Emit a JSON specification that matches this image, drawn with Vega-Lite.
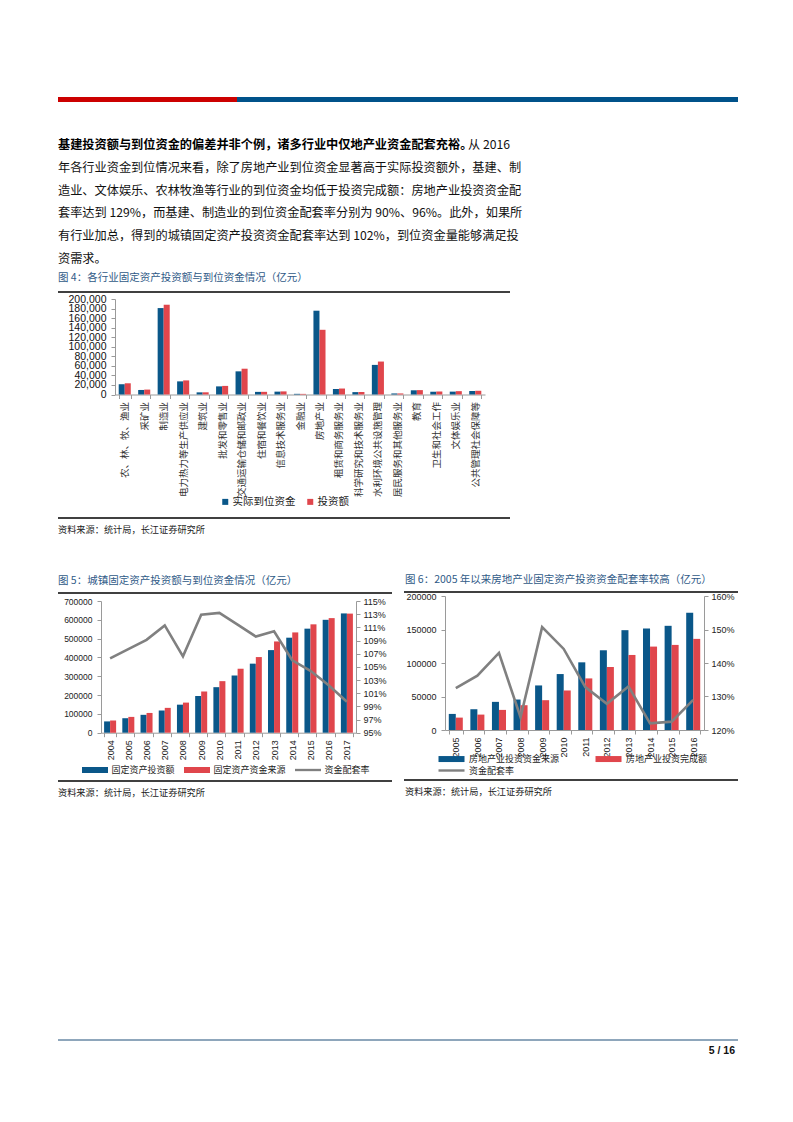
{
"$schema": "https://vega.github.io/schema/vega-lite/v6.json",
"padding": 0,
"background": "white",
"bounds": "flush",
"spacing": 0,
"resolve": {"scale": {"color": "independent", "xOffset": "independent"}, "legend": {"color": "independent"}},
"config": {
 "view": {"stroke": null},
 "concat": {"spacing": 0},
 "axis": {"grid": false, "labelFont": "Liberation Sans", "labelColor": "#222222", "domainColor": "#9a9a9a", "tickColor": "#9a9a9a", "tickSize": 4, "labelOverlap": false},
 "legend": {"labelFont": "Noto Sans CJK SC", "labelColor": "#222222"},
 "text": {"font": "Noto Sans CJK SC"}
},
"datasets": {
 "c4": [
  {"industry":"农、林、牧、渔业","series":"实际到位资金","value":21500},{"industry":"农、林、牧、渔业","series":"投资额","value":23500},
  {"industry":"采矿业","series":"实际到位资金","value":9500},{"industry":"采矿业","series":"投资额","value":10300},
  {"industry":"制造业","series":"实际到位资金","value":181000},{"industry":"制造业","series":"投资额","value":188000},
  {"industry":"电力热力等生产供应业","series":"实际到位资金","value":27500},{"industry":"电力热力等生产供应业","series":"投资额","value":29500},
  {"industry":"建筑业","series":"实际到位资金","value":4500},{"industry":"建筑业","series":"投资额","value":4600},
  {"industry":"批发和零售业","series":"实际到位资金","value":17000},{"industry":"批发和零售业","series":"投资额","value":18000},
  {"industry":"交通运输仓储和邮政业","series":"实际到位资金","value":48500},{"industry":"交通运输仓储和邮政业","series":"投资额","value":54000},
  {"industry":"住宿和餐饮业","series":"实际到位资金","value":5500},{"industry":"住宿和餐饮业","series":"投资额","value":5600},
  {"industry":"信息技术服务业","series":"实际到位资金","value":6000},{"industry":"信息技术服务业","series":"投资额","value":6500},
  {"industry":"金融业","series":"实际到位资金","value":1400},{"industry":"金融业","series":"投资额","value":1300},
  {"industry":"房地产业","series":"实际到位资金","value":175500},{"industry":"房地产业","series":"投资额","value":135500},
  {"industry":"租赁和商务服务业","series":"实际到位资金","value":11500},{"industry":"租赁和商务服务业","series":"投资额","value":12500},
  {"industry":"科学研究和技术服务业","series":"实际到位资金","value":5000},{"industry":"科学研究和技术服务业","series":"投资额","value":5200},
  {"industry":"水利环境公共设施管理","series":"实际到位资金","value":62000},{"industry":"水利环境公共设施管理","series":"投资额","value":69000},
  {"industry":"居民服务和其他服务业","series":"实际到位资金","value":2200},{"industry":"居民服务和其他服务业","series":"投资额","value":2200},
  {"industry":"教育","series":"实际到位资金","value":8800},{"industry":"教育","series":"投资额","value":9200},
  {"industry":"卫生和社会工作","series":"实际到位资金","value":5800},{"industry":"卫生和社会工作","series":"投资额","value":6300},
  {"industry":"文体娱乐业","series":"实际到位资金","value":6000},{"industry":"文体娱乐业","series":"投资额","value":7000},
  {"industry":"公共管理社会保障等","series":"实际到位资金","value":7300},{"industry":"公共管理社会保障等","series":"投资额","value":7800}
 ],
 "c5bars": [
  {"year":"2004","series":"固定资产投资额","value":60000},{"year":"2004","series":"固定资产资金来源","value":65000},
  {"year":"2005","series":"固定资产投资额","value":77000},{"year":"2005","series":"固定资产资金来源","value":84000},
  {"year":"2006","series":"固定资产投资额","value":95000},{"year":"2006","series":"固定资产资金来源","value":105000},
  {"year":"2007","series":"固定资产投资额","value":118000},{"year":"2007","series":"固定资产资金来源","value":132000},
  {"year":"2008","series":"固定资产投资额","value":149000},{"year":"2008","series":"固定资产资金来源","value":160000},
  {"year":"2009","series":"固定资产投资额","value":195000},{"year":"2009","series":"固定资产资金来源","value":219000},
  {"year":"2010","series":"固定资产投资额","value":242000},{"year":"2010","series":"固定资产资金来源","value":274000},
  {"year":"2011","series":"固定资产投资额","value":304000},{"year":"2011","series":"固定资产资金来源","value":340000},
  {"year":"2012","series":"固定资产投资额","value":367000},{"year":"2012","series":"固定资产资金来源","value":402000},
  {"year":"2013","series":"固定资产投资额","value":439000},{"year":"2013","series":"固定资产资金来源","value":485000},
  {"year":"2014","series":"固定资产投资额","value":505000},{"year":"2014","series":"固定资产资金来源","value":533000},
  {"year":"2015","series":"固定资产投资额","value":553000},{"year":"2015","series":"固定资产资金来源","value":576000},
  {"year":"2016","series":"固定资产投资额","value":600000},{"year":"2016","series":"固定资产资金来源","value":609000},
  {"year":"2017","series":"固定资产投资额","value":634000},{"year":"2017","series":"固定资产资金来源","value":633000}
 ],
 "c5rate": [
  {"year":"2004","rate":1.063},{"year":"2005","rate":1.077},{"year":"2006","rate":1.091},{"year":"2007","rate":1.113},
  {"year":"2008","rate":1.066},{"year":"2009","rate":1.129},{"year":"2010","rate":1.132},{"year":"2011","rate":1.114},
  {"year":"2012","rate":1.096},{"year":"2013","rate":1.104},{"year":"2014","rate":1.060},{"year":"2015","rate":1.044},
  {"year":"2016","rate":1.022},{"year":"2017","rate":0.997}
 ],
 "c6bars": [
  {"year":"2005","series":"房地产业投资资金来源","value":24000},{"year":"2005","series":"房地产业投资完成额","value":18500},
  {"year":"2006","series":"房地产业投资资金来源","value":31000},{"year":"2006","series":"房地产业投资完成额","value":23000},
  {"year":"2007","series":"房地产业投资资金来源","value":42000},{"year":"2007","series":"房地产业投资完成额","value":30000},
  {"year":"2008","series":"房地产业投资资金来源","value":45500},{"year":"2008","series":"房地产业投资完成额","value":37000},
  {"year":"2009","series":"房地产业投资资金来源","value":66500},{"year":"2009","series":"房地产业投资完成额","value":44500},
  {"year":"2010","series":"房地产业投资资金来源","value":83500},{"year":"2010","series":"房地产业投资完成额","value":59000},
  {"year":"2011","series":"房地产业投资资金来源","value":101000},{"year":"2011","series":"房地产业投资完成额","value":77000},
  {"year":"2012","series":"房地产业投资资金来源","value":119000},{"year":"2012","series":"房地产业投资完成额","value":94000},
  {"year":"2013","series":"房地产业投资资金来源","value":149000},{"year":"2013","series":"房地产业投资完成额","value":112000},
  {"year":"2014","series":"房地产业投资资金来源","value":151500},{"year":"2014","series":"房地产业投资完成额","value":124500},
  {"year":"2015","series":"房地产业投资资金来源","value":155500},{"year":"2015","series":"房地产业投资完成额","value":127000},
  {"year":"2016","series":"房地产业投资资金来源","value":175000},{"year":"2016","series":"房地产业投资完成额","value":136000}
 ],
 "c6rate": [
  {"year":"2005","rate":1.325},{"year":"2006","rate":1.362},{"year":"2007","rate":1.43},{"year":"2008","rate":1.238},
  {"year":"2009","rate":1.507},{"year":"2010","rate":1.442},{"year":"2011","rate":1.328},{"year":"2012","rate":1.278},
  {"year":"2013","rate":1.33},{"year":"2014","rate":1.22},{"year":"2015","rate":1.225},{"year":"2016","rate":1.29}
 ]
},
"vconcat": [
 {"hconcat": [
   {"width": 58, "height": 1, "data": {"values": [{}]}, "mark": {"type": "point", "opacity": 0}},
   {"vconcat": [
     {"width": 1, "height": 94, "data": {"values": [{}]}, "mark": {"type": "point", "opacity": 0}},
     {"width": 680, "height": 5,
      "data": {"values": [{"seg": "left", "v": 179}, {"seg": "right", "v": 501}]},
      "mark": {"type": "bar", "size": 5},
      "encoding": {
        "x": {"field": "v", "type": "quantitative", "stack": "zero", "scale": {"domain": [0, 680], "nice": false}, "axis": null},
        "color": {"field": "seg", "type": "nominal", "scale": {"domain": ["left", "right"], "range": ["#CC0000", "#00528A"]}, "legend": null}
      }},
     {"width": 1, "height": 32, "data": {"values": [{}]}, "mark": {"type": "point", "opacity": 0}},
     {"width": 452, "height": 136,
      "encoding": {"y": {"field": "line", "type": "ordinal", "scale": {"type": "band", "domain": [1, 2, 3, 4, 5, 6], "paddingInner": 0, "paddingOuter": 0}, "axis": null}},
      "layer": [
       {"data": {"values": [{"line": 1, "text": "基建投资额与到位资金的偏差并非个例，诸多行业中仅地产业资金配套充裕。"}]},
        "mark": {"type": "text", "align": "left", "baseline": "middle", "fontSize": 12.2, "fontWeight": "bold", "color": "#000000"},
        "encoding": {"text": {"field": "text"}, "x": {"value": 0}}},
       {"data": {"values": [{"line": 1, "text": "从 2016"}]},
        "mark": {"type": "text", "align": "right", "baseline": "middle", "fontSize": 12.2, "color": "#111111"},
        "encoding": {"text": {"field": "text"}, "x": {"value": "width"}}},
       {"data": {"values": [
          {"line": 2, "text": "年各行业资金到位情况来看，除了房地产业到位资金显著高于实际投资额外，基建、制"},
          {"line": 3, "text": "造业、文体娱乐、农林牧渔等行业的到位资金均低于投资完成额：房地产业投资资金配"},
          {"line": 4, "text": "套率达到 129%，而基建、制造业的到位资金配套率分别为 90%、96%。此外，如果所"},
          {"line": 5, "text": "有行业加总，得到的城镇固定资产投资资金配套率达到 102%，到位资金量能够满足投"},
          {"line": 6, "text": "资需求。"}]},
        "mark": {"type": "text", "align": "left", "baseline": "middle", "fontSize": 12.2, "color": "#111111"},
        "encoding": {"text": {"field": "text"}, "x": {"value": 0}}}
      ]},
     {"width": 452, "height": 16, "data": {"values": [{"t": "图 4：各行业固定资产投资额与到位资金情况（亿元）"}]},
      "mark": {"type": "text", "align": "left", "baseline": "middle", "fontSize": 10.5, "color": "#2F5A87"},
      "encoding": {"text": {"field": "t"}, "x": {"value": 0}}},
     {"width": 1, "height": 4.5, "data": {"values": [{}]}, "mark": {"type": "point", "opacity": 0}},
     {"width": 452, "height": 1, "data": {"values": [{}]}, "mark": {"type": "rule", "color": "#000000", "strokeWidth": 1.4},
      "encoding": {"y": {"datum": 0, "type": "quantitative", "scale": {"domain": [0, 1]}, "axis": null}}},
     {"width": 1, "height": 225, "data": {"values": [{}]}, "mark": {"type": "point", "opacity": 0}},
     {"width": 452, "height": 1, "data": {"values": [{}]}, "mark": {"type": "rule", "color": "#000000", "strokeWidth": 1.4},
      "encoding": {"y": {"datum": 0, "type": "quantitative", "scale": {"domain": [0, 1]}, "axis": null}}},
     {"width": 1, "height": 3.5, "data": {"values": [{}]}, "mark": {"type": "point", "opacity": 0}},
     {"width": 452, "height": 16, "data": {"values": [{"t": "资料来源：统计局，长江证券研究所"}]},
      "mark": {"type": "text", "align": "left", "baseline": "middle", "fontSize": 9.2, "color": "#222222"},
      "encoding": {"text": {"field": "t"}, "x": {"value": 0}}},
     {"width": 1, "height": 35, "data": {"values": [{}]}, "mark": {"type": "point", "opacity": 0}},
     {"width": 332, "height": 16, "data": {"values": [{"t": "图 5：城镇固定资产投资额与到位资金情况（亿元）"}]},
      "mark": {"type": "text", "align": "left", "baseline": "middle", "fontSize": 10.5, "color": "#2F5A87"},
      "encoding": {"text": {"field": "t"}, "x": {"value": 0}}},
     {"width": 1, "height": 2.5, "data": {"values": [{}]}, "mark": {"type": "point", "opacity": 0}},
     {"width": 334, "height": 1, "data": {"values": [{}]}, "mark": {"type": "rule", "color": "#000000", "strokeWidth": 1.4},
      "encoding": {"y": {"datum": 0, "type": "quantitative", "scale": {"domain": [0, 1]}, "axis": null}}},
     {"width": 1, "height": 187, "data": {"values": [{}]}, "mark": {"type": "point", "opacity": 0}},
     {"width": 334, "height": 1, "data": {"values": [{}]}, "mark": {"type": "rule", "color": "#000000", "strokeWidth": 1.4},
      "encoding": {"y": {"datum": 0, "type": "quantitative", "scale": {"domain": [0, 1]}, "axis": null}}},
     {"width": 1, "height": 3.5, "data": {"values": [{}]}, "mark": {"type": "point", "opacity": 0}},
     {"width": 332, "height": 16, "data": {"values": [{"t": "资料来源：统计局，长江证券研究所"}]},
      "mark": {"type": "text", "align": "left", "baseline": "middle", "fontSize": 9.2, "color": "#222222"},
      "encoding": {"text": {"field": "t"}, "x": {"value": 0}}},
     {"width": 1, "height": 237.5, "data": {"values": [{}]}, "mark": {"type": "point", "opacity": 0}},
     {"width": 680, "height": 1, "data": {"values": [{}]}, "mark": {"type": "rule", "color": "#1F4E79", "strokeWidth": 1},
      "encoding": {"y": {"datum": 0, "type": "quantitative", "scale": {"domain": [0, 1]}, "axis": null}}},
     {"width": 1, "height": 3.5, "data": {"values": [{}]}, "mark": {"type": "point", "opacity": 0}},
     {"width": 677, "height": 14, "data": {"values": [{"t": "5 / 16"}]},
      "mark": {"type": "text", "align": "right", "baseline": "middle", "font": "Liberation Sans", "fontSize": 10.5, "fontWeight": "bold", "color": "#111111"},
      "encoding": {"text": {"field": "t"}, "x": {"value": "width"}}}
    ], "bounds": "flush", "spacing": 0, "resolve": {"scale": {"color": "independent", "xOffset": "independent"}, "legend": {"color": "independent"}}}
  ], "bounds": "flush", "spacing": 0, "resolve": {"scale": {"color": "independent", "xOffset": "independent"}, "legend": {"color": "independent"}}},
 {"hconcat": [
   {"width": 404, "height": 1, "data": {"values": [{}]}, "mark": {"type": "point", "opacity": 0}},
   {"vconcat": [
     {"width": 1, "height": 569, "data": {"values": [{}]}, "mark": {"type": "point", "opacity": 0}},
     {"width": 334, "height": 16, "data": {"values": [{"t": "图 6：2005 年以来房地产业固定资产投资资金配套率较高（亿元）"}]},
      "mark": {"type": "text", "align": "left", "baseline": "middle", "fontSize": 10.5, "color": "#2F5A87", "dx": 1},
      "encoding": {"text": {"field": "t"}, "x": {"value": 0}}},
     {"width": 1, "height": 2.5, "data": {"values": [{}]}, "mark": {"type": "point", "opacity": 0}},
     {"width": 334, "height": 1, "data": {"values": [{}]}, "mark": {"type": "rule", "color": "#000000", "strokeWidth": 1.4},
      "encoding": {"y": {"datum": 0, "type": "quantitative", "scale": {"domain": [0, 1]}, "axis": null}}},
     {"width": 1, "height": 187, "data": {"values": [{}]}, "mark": {"type": "point", "opacity": 0}},
     {"width": 334, "height": 1, "data": {"values": [{}]}, "mark": {"type": "rule", "color": "#000000", "strokeWidth": 1.4},
      "encoding": {"y": {"datum": 0, "type": "quantitative", "scale": {"domain": [0, 1]}, "axis": null}}},
     {"width": 1, "height": 3.5, "data": {"values": [{}]}, "mark": {"type": "point", "opacity": 0}},
     {"width": 334, "height": 16, "data": {"values": [{"t": "资料来源：统计局，长江证券研究所"}]},
      "mark": {"type": "text", "align": "left", "baseline": "middle", "fontSize": 9.2, "color": "#222222", "dx": 1},
      "encoding": {"text": {"field": "t"}, "x": {"value": 0}}}
    ], "bounds": "flush", "spacing": 0}
  ], "bounds": "flush", "spacing": 0},
 {"hconcat": [
   {"width": 115, "height": 1, "data": {"values": [{}]}, "mark": {"type": "point", "opacity": 0}},
   {"vconcat": [
     {"width": 1, "height": 295.5, "data": {"values": [{}]}, "mark": {"type": "point", "opacity": 0}},
     {"width": 370, "height": 95.5, "data": {"name": "c4"},
      "mark": {"type": "bar"},
      "encoding": {
        "x": {"field": "industry", "type": "nominal", "sort": null, "scale": {"paddingInner": 0.38, "paddingOuter": 0.19},
              "axis": {"title": null, "labelAngle": -90, "tickBand": "extent", "labelFont": "Noto Sans CJK SC", "labelFontSize": 9.5, "labelPadding": 3, "labelLimit": 200, "labelColor": "#333333"}},
        "xOffset": {"field": "series", "type": "nominal", "sort": ["实际到位资金", "投资额"], "scale": {"paddingInner": 0, "paddingOuter": 0}},
        "y": {"field": "value", "type": "quantitative", "scale": {"domain": [0, 200000], "nice": false},
              "axis": {"title": null, "values": [0, 20000, 40000, 60000, 80000, 100000, 120000, 140000, 160000, 180000, 200000], "format": ",.0f", "labelFontSize": 10.5, "labelPadding": 5, "labelColor": "#111111"}},
        "color": {"field": "series", "type": "nominal", "scale": {"domain": ["实际到位资金", "投资额"], "range": ["#0A5789", "#E0464C"]},
              "legend": {"orient": "none", "legendX": 220, "legendY": 493.5, "direction": "horizontal", "title": null, "symbolType": "square", "symbolSize": 36, "symbolStrokeWidth": 0, "labelFontSize": 10.5, "labelOffset": 2, "columnPadding": 9, "padding": 0}}
      }}
    ], "bounds": "flush", "spacing": 0}
  ], "bounds": "flush", "spacing": 0},
 {"hconcat": [
   {"width": 101, "height": 1, "data": {"values": [{}]}, "mark": {"type": "point", "opacity": 0}},
   {"vconcat": [
     {"width": 1, "height": 597.3, "data": {"values": [{}]}, "mark": {"type": "point", "opacity": 0}},
     {"width": 255, "height": 131.7,
      "layer": [
       {"data": {"name": "c5bars"}, "mark": {"type": "bar"},
        "encoding": {
          "x": {"field": "year", "type": "ordinal", "scale": {"paddingInner": 0.34, "paddingOuter": 0.17},
                "axis": {"title": null, "labelAngle": -90, "tickBand": "extent", "labelFontSize": 9, "labelPadding": 3}},
          "xOffset": {"field": "series", "type": "nominal", "sort": ["固定资产投资额", "固定资产资金来源"], "scale": {"paddingInner": 0, "paddingOuter": 0}},
          "y": {"field": "value", "type": "quantitative", "scale": {"domain": [0, 700000], "nice": false},
                "axis": {"orient": "left", "title": null, "values": [0, 100000, 200000, 300000, 400000, 500000, 600000, 700000], "format": "d", "labelFontSize": 8.5, "labelPadding": 5}},
          "color": {"field": "series", "type": "nominal", "scale": {"domain": ["固定资产投资额", "固定资产资金来源", "资金配套率"], "range": ["#0A5789", "#E0464C", "#808080"]},
                "legend": {"orient": "none", "legendX": 82, "legendY": 754, "direction": "horizontal", "title": null,
                           "symbolType": "M-1,-0.23H1V0.23H-1Z", "symbolSize": 676, "symbolStrokeWidth": 0,
                           "labelFontSize": 9, "labelOffset": 3.5, "columnPadding": 9, "padding": 0,
                           "encode": {"symbols": {"update": {
                             "shape": {"signal": "datum.value === '资金配套率' ? 'M-1,-0.09H1V0.09H-1Z' : 'M-1,-0.23H1V0.23H-1Z'"},
                             "fill": {"signal": "datum.value === '资金配套率' ? '#808080' : (datum.value === '固定资产投资额' ? '#0A5789' : '#E0464C')"}}}}}}
        }},
       {"data": {"name": "c5rate"}, "mark": {"type": "line", "strokeWidth": 2.6},
        "encoding": {
          "x": {"field": "year", "type": "ordinal"},
          "y": {"field": "rate", "type": "quantitative", "scale": {"domain": [0.95, 1.15], "nice": false, "zero": false},
                "axis": {"orient": "right", "title": null, "values": [0.95, 0.97, 0.99, 1.01, 1.03, 1.05, 1.07, 1.09, 1.11, 1.13, 1.15], "format": ".0%", "labelFontSize": 9, "labelPadding": 3}},
          "color": {"datum": "资金配套率", "type": "nominal"}
        }}
      ],
      "resolve": {"scale": {"y": "independent"}}}
    ], "bounds": "flush", "spacing": 0}
  ], "bounds": "flush", "spacing": 0},
 {"hconcat": [
   {"width": 445, "height": 1, "data": {"values": [{}]}, "mark": {"type": "point", "opacity": 0}},
   {"vconcat": [
     {"width": 1, "height": 593, "data": {"values": [{}]}, "mark": {"type": "point", "opacity": 0}},
     {"width": 259, "height": 134,
      "layer": [
       {"data": {"name": "c6bars"}, "mark": {"type": "bar"},
        "encoding": {
          "x": {"field": "year", "type": "ordinal", "scale": {"paddingInner": 0.35, "paddingOuter": 0.175},
                "axis": {"title": null, "labelAngle": -90, "tickBand": "extent", "labelFontSize": 9, "labelPadding": 3}},
          "xOffset": {"field": "series", "type": "nominal", "sort": ["房地产业投资资金来源", "房地产业投资完成额"], "scale": {"paddingInner": 0, "paddingOuter": 0}},
          "y": {"field": "value", "type": "quantitative", "scale": {"domain": [0, 200000], "nice": false},
                "axis": {"orient": "left", "title": null, "values": [0, 50000, 100000, 150000, 200000], "format": "d", "labelFontSize": 9, "labelPadding": 5}},
          "color": {"field": "series", "type": "nominal", "scale": {"domain": ["房地产业投资资金来源", "房地产业投资完成额", "资金配套率"], "range": ["#0A5789", "#E0464C", "#808080"]},
                "legend": {"orient": "none", "legendX": 437, "legendY": 751.3, "direction": "horizontal", "columns": 2, "title": null,
                           "symbolType": "M-1,-1H7.67V1H-1Z", "symbolSize": 36, "symbolStrokeWidth": 0,
                           "labelFontSize": 9, "labelOffset": 23, "columnPadding": 34, "rowPadding": 1.7, "padding": 0,
                           "encode": {"symbols": {"update": {
                             "shape": {"signal": "datum.value === '资金配套率' ? 'M-1,-0.4H7.67V0.4H-1Z' : 'M-1,-1H7.67V1H-1Z'"},
                             "fill": {"signal": "datum.value === '资金配套率' ? '#808080' : (datum.value === '房地产业投资资金来源' ? '#0A5789' : '#E0464C')"}}}}}}
        }},
       {"data": {"name": "c6rate"}, "mark": {"type": "line", "strokeWidth": 2.6},
        "encoding": {
          "x": {"field": "year", "type": "ordinal"},
          "y": {"field": "rate", "type": "quantitative", "scale": {"domain": [1.2, 1.6], "nice": false, "zero": false},
                "axis": {"orient": "right", "title": null, "values": [1.2, 1.3, 1.4, 1.5, 1.6], "format": ".0%", "labelFontSize": 9, "labelPadding": 3}},
          "color": {"datum": "资金配套率", "type": "nominal"}
        }}
      ],
      "resolve": {"scale": {"y": "independent"}}}
    ], "bounds": "flush", "spacing": 0}
  ], "bounds": "flush", "spacing": 0}
]
}
